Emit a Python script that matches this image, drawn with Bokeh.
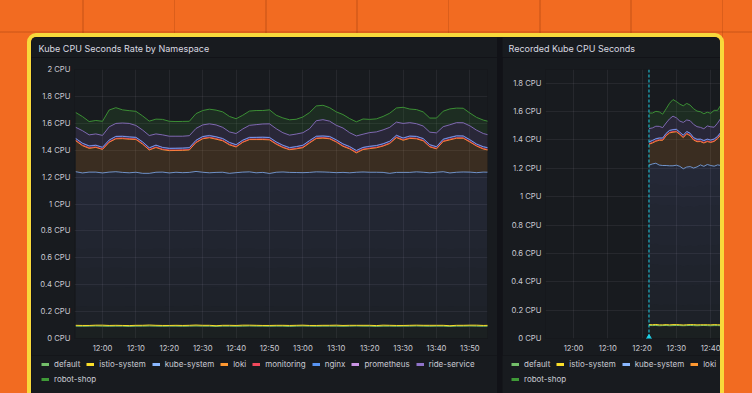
import numpy as np
import pandas as pd
from bokeh.plotting import figure
from bokeh.models import (Range1d, FixedTicker, DatetimeTickFormatter, CustomJSTickFormatter,
                          Legend, LegendItem, Span, Spacer, Label)
from bokeh.layouts import row, column
from bokeh.embed import file_html
from bokeh.resources import INLINE

DAY = "2024-05-14"

names = ["default", "istio-system", "kube-system", "loki", "monitoring",
         "nginx", "prometheus", "ride-service", "robot-shop"]
colors = ["#73bf69", "#fade2a", "#8ab8ff", "#ff9830", "#f2495c",
          "#5794f2", "#ca95e5", "#8f73c9", "#3f9a37"]
fill_alphas = [0.03, 0.10, None, 0.15, 0.15, 0.15, 0.15, 0.15, 0.15]
line_alphas = [1.0, 1.0, 0.75, 1.0, 0.8, 1.0, 0.35, 0.85, 0.9]

left_title = "Kube CPU Seconds Rate by Namespace"
right_title = "Recorded Kube CPU Seconds"

# ---- left panel data (every 2 minutes from 11:52) ----
left_first, left_step, left_n = "11:52", "2min", 63
left_default = [0.092,0.091,0.092,0.093,0.092,0.091,0.092,0.092,0.090,0.092,
                0.092,0.093,0.092,0.091,0.092,0.092,0.091,0.092,0.093,0.092,
                0.092,0.090,0.092,0.092,0.091,0.092,0.093,0.092,0.092,0.091,
                0.092,0.092,0.090,0.092,0.093,0.092,0.091,0.092,0.092,0.092,
                0.091,0.092,0.093,0.092,0.092,0.090,0.092,0.092,0.091,0.092,
                0.092,0.093,0.092,0.091,0.092,0.092,0.090,0.092,0.092,0.093,
                0.092,0.091,0.092]
left_istio = [0.006,0.006,0.005,0.006,0.007,0.006,0.006,0.005,0.006,0.006,
              0.006,0.007,0.006,0.006,0.005,0.006,0.006,0.006,0.007,0.006,
              0.006,0.005,0.006,0.006,0.006,0.007,0.006,0.006,0.005,0.006,
              0.006,0.006,0.007,0.006,0.006,0.005,0.006,0.006,0.006,0.007,
              0.006,0.006,0.005,0.006,0.006,0.006,0.007,0.006,0.006,0.005,
              0.006,0.006,0.006,0.007,0.006,0.006,0.005,0.006,0.006,0.006,
              0.007,0.006,0.006]
left_kube = [1.142,1.134,1.140,1.138,1.132,1.140,1.142,1.138,1.136,1.138,
             1.130,1.128,1.138,1.140,1.134,1.138,1.136,1.137,1.142,1.138,
             1.134,1.140,1.138,1.130,1.136,1.138,1.140,1.134,1.138,1.130,
             1.138,1.140,1.138,1.136,1.134,1.138,1.142,1.140,1.138,1.134,
             1.138,1.134,1.138,1.140,1.138,1.140,1.136,1.130,1.138,1.138,
             1.137,1.140,1.138,1.134,1.138,1.142,1.136,1.138,1.140,1.138,
             1.134,1.140,1.138]
left_loki = [0.230,0.203,0.177,0.184,0.175,0.222,0.245,0.251,0.250,0.244,
             0.217,0.174,0.184,0.167,0.166,0.162,0.166,0.167,0.215,0.249,
             0.261,0.247,0.234,0.212,0.191,0.222,0.240,0.247,0.244,0.250,
             0.209,0.182,0.169,0.176,0.186,0.219,0.248,0.252,0.249,0.228,
             0.194,0.178,0.144,0.167,0.176,0.182,0.196,0.222,0.259,0.239,
             0.253,0.246,0.234,0.193,0.174,0.225,0.246,0.253,0.251,0.224,
             0.198,0.172,0.162]
left_monitoring = [0.004,0.004,0.005,0.004,0.003,0.004,0.004,0.005,0.004,0.004,
                   0.004,0.003,0.004,0.004,0.005,0.004,0.004,0.004,0.003,0.004,
                   0.004,0.005,0.004,0.004,0.004,0.003,0.004,0.004,0.005,0.004,
                   0.004,0.004,0.003,0.004,0.004,0.005,0.004,0.004,0.004,0.003,
                   0.004,0.004,0.005,0.004,0.004,0.004,0.003,0.004,0.004,0.005,
                   0.004,0.004,0.004,0.003,0.004,0.004,0.005,0.004,0.004,0.004,
                   0.003,0.004,0.004]
left_nginx = [0.012,0.013,0.012,0.011,0.012,0.012,0.013,0.012,0.012,0.011,
              0.012,0.012,0.013,0.012,0.011,0.012,0.012,0.012,0.013,0.012,
              0.011,0.012,0.012,0.013,0.012,0.012,0.011,0.012,0.012,0.013,
              0.012,0.012,0.011,0.012,0.013,0.012,0.012,0.011,0.012,0.012,
              0.013,0.012,0.012,0.011,0.012,0.012,0.013,0.012,0.012,0.011,
              0.012,0.013,0.012,0.012,0.011,0.012,0.012,0.013,0.012,0.012,
              0.011,0.012,0.012]
left_prometheus = [0.002,0.002,0.002,0.003,0.002,0.002,0.002,0.002,0.003,0.002,
                   0.002,0.002,0.002,0.002,0.003,0.002,0.002,0.002,0.002,0.002,
                   0.003,0.002,0.002,0.002,0.002,0.002,0.003,0.002,0.002,0.002,
                   0.002,0.002,0.003,0.002,0.002,0.002,0.002,0.002,0.003,0.002,
                   0.002,0.002,0.002,0.002,0.003,0.002,0.002,0.002,0.002,0.002,
                   0.003,0.002,0.002,0.002,0.002,0.002,0.003,0.002,0.002,0.002,
                   0.002,0.002,0.003]
left_ride = [0.082,0.092,0.081,0.082,0.087,0.097,0.095,0.097,0.098,0.087,
             0.087,0.090,0.082,0.092,0.088,0.088,0.087,0.088,0.087,0.085,
             0.085,0.087,0.082,0.077,0.082,0.082,0.088,0.093,0.097,0.100,
             0.097,0.092,0.091,0.092,0.092,0.087,0.114,0.120,0.112,0.107,
             0.117,0.102,0.107,0.097,0.100,0.100,0.102,0.102,0.097,0.107,
             0.098,0.093,0.092,0.092,0.102,0.092,0.092,0.097,0.097,0.102,
             0.102,0.097,0.094]
left_robot = [0.110,0.105,0.099,0.100,0.105,0.125,0.117,0.098,0.095,0.105,
              0.105,0.107,0.110,0.115,0.111,0.109,0.110,0.107,0.110,0.107,
              0.109,0.110,0.115,0.115,0.110,0.102,0.106,0.105,0.100,0.104,
              0.100,0.110,0.114,0.110,0.117,0.120,0.110,0.107,0.100,0.100,
              0.100,0.105,0.105,0.113,0.098,0.097,0.100,0.105,0.105,0.120,
              0.101,0.105,0.105,0.105,0.110,0.115,0.118,0.108,0.108,0.095,
              0.095,0.100,0.100]

# ---- right panel data (every minute from 12:22) ----
right_first, right_step, right_n = "12:22", "1min", 23
right_default = [0.092,0.091,0.092,0.090,0.091,0.092,0.090,0.091,0.092,0.091,0.090,0.091,
                 0.092,0.091,0.090,0.091,0.092,0.091,0.090,0.091,0.091,0.090,0.091]
right_istio = [0.006,0.006,0.007,0.006,0.005,0.006,0.006,0.007,0.006,0.006,0.005,0.006,
               0.006,0.007,0.006,0.006,0.005,0.006,0.006,0.007,0.006,0.006,0.006]
right_kube = [1.124,1.134,1.137,1.127,1.124,1.122,1.122,1.120,1.124,1.117,1.102,1.112,
              1.114,1.104,1.114,1.127,1.117,1.130,1.124,1.117,1.127,1.124,1.124]
right_loki = [0.148,0.148,0.155,0.175,0.178,0.210,0.232,0.237,0.236,0.225,0.220,0.235,
              0.218,0.198,0.178,0.165,0.165,0.162,0.163,0.175,0.185,0.218,0.223]
right_monitoring = [0.004,0.004,0.005,0.004,0.003,0.004,0.004,0.005,0.004,0.004,0.004,0.003,
                    0.004,0.004,0.005,0.004,0.004,0.004,0.003,0.004,0.004,0.005,0.004]
right_nginx = [0.012,0.013,0.012,0.011,0.012,0.012,0.013,0.012,0.012,0.011,0.012,0.012,
               0.013,0.012,0.011,0.012,0.012,0.012,0.013,0.012,0.011,0.012,0.012]
right_prometheus = [0.002,0.002,0.002,0.003,0.002,0.002,0.002,0.002,0.003,0.002,0.002,0.002,
                    0.002,0.002,0.003,0.002,0.002,0.002,0.002,0.002,0.003,0.002,0.002]
right_ride = [0.092,0.087,0.087,0.080,0.072,0.072,0.080,0.094,0.079,0.077,0.089,0.080,
              0.087,0.092,0.087,0.082,0.082,0.092,0.092,0.082,0.092,0.098,0.097]
right_robot = [0.110,0.105,0.105,0.102,0.095,0.100,0.110,0.117,0.115,0.120,0.117,0.117,
               0.110,0.110,0.110,0.110,0.106,0.097,0.095,0.119,0.090,0.094,0.090]

left_x_ticks = ["12:00", "12:10", "12:20", "12:30", "12:40", "12:50",
                "13:00", "13:10", "13:20", "13:30", "13:40", "13:50"]
right_x_ticks = ["12:00", "12:10", "12:20", "12:30", "12:40"]
left_y_ticks = [0, 0.2, 0.4, 0.6, 0.8, 1, 1.2, 1.4, 1.6, 1.8, 2]
right_y_ticks = [0, 0.2, 0.4, 0.6, 0.8, 1, 1.2, 1.4, 1.6, 1.8]
left_view = ("11:51:37", "13:55:16", 2.0)
right_view = ("11:51:50", "12:42:51", 1.897)
annotation_time = "12:22"

left_values = [left_default, left_istio, left_kube, left_loki, left_monitoring,
               left_nginx, left_prometheus, left_ride, left_robot]
right_values = [right_default, right_istio, right_kube, right_loki, right_monitoring,
                right_nginx, right_prometheus, right_ride, right_robot]

TEXT = "#c9cad2"
PANEL = "#181b1f"
FONT = "Inter"


def ms(hm):
    return pd.Timestamp(f"{DAY} {hm}").value / 1e6


def blank_fig(width, height):
    f = figure(width=width, height=height, x_range=Range1d(0, 1), y_range=Range1d(0, 1),
               x_axis_location=None, y_axis_location=None,
               output_backend="svg", toolbar_location=None,
               min_border_left=0, min_border_right=0, min_border_top=0, min_border_bottom=0)
    f.background_fill_color = PANEL
    f.border_fill_color = PANEL
    f.outline_line_color = None
    f.grid.visible = False
    return f


def make_panel(title, width, border_right, first, step, n, values, view,
               x_ticks, y_ticks, legend_rows, title_x, legend_x):
    # header with the panel title
    head = blank_fig(width, 20)
    head.add_layout(Label(x=title_x, y=9, x_units="screen", y_units="screen", text=title,
                          text_font=FONT, text_font_size="9px", text_color="#d8d9e0",
                          text_baseline="middle", text_align="left"))

    times = pd.date_range(f"{DAY} {first}", periods=n, freq=step)
    p = figure(width=width, height=298, x_axis_type="datetime",
               x_range=Range1d(ms(view[0]), ms(view[1])),
               y_range=Range1d(0, view[2]),
               output_backend="svg", toolbar_location=None,
               min_border_left=43, min_border_right=border_right,
               min_border_top=12, min_border_bottom=17)
    p.background_fill_color = PANEL
    p.border_fill_color = PANEL
    p.outline_line_color = None

    p.xaxis.ticker = FixedTicker(ticks=[ms(t) for t in x_ticks])
    p.xaxis.formatter = DatetimeTickFormatter(minsec="%H:%M", minutes="%H:%M",
                                              hourmin="%H:%M", hours="%H:%M")
    p.yaxis.ticker = FixedTicker(ticks=y_ticks)
    p.yaxis.formatter = CustomJSTickFormatter(code="return (Math.round(tick*10)/10) + ' CPU';")
    for ax in (p.xaxis[0], p.yaxis[0]):
        ax.axis_line_color = None
        ax.major_tick_line_color = None
        ax.minor_tick_line_color = None
        ax.major_tick_in = 0
        ax.major_tick_out = 0
        ax.major_label_text_font = FONT
        ax.major_label_text_font_size = "7.7px"
        ax.major_label_text_color = TEXT
    p.yaxis.major_label_standoff = 4
    p.xaxis.major_label_standoff = 5
    p.grid.grid_line_color = "#ccccdc"
    p.grid.grid_line_alpha = 0.08

    lower = np.zeros(n)
    tops = []
    for name, vals, col, fa in zip(names, values, colors, fill_alphas):
        upper = lower + np.array(vals)
        if name == "kube-system":
            p.varea(x=times, y1=lower, y2=upper, fill_color=col, fill_alpha=0.035)
            for j in range(8):
                p.varea(x=times, y1=lower + (upper - lower) * j / 8, y2=upper,
                        fill_color=col, fill_alpha=0.011)
        else:
            p.varea(x=times, y1=lower, y2=upper, fill_color=col, fill_alpha=fa)
        tops.append(upper)
        lower = upper
    for top, col, la in zip(tops, colors, line_alphas):
        p.line(times, top, line_color=col, line_width=1, line_alpha=la)

    # legend strip (key swatches are one-point lines: they draw nothing in the strip itself)
    leg_fig = blank_fig(width, 38)
    keys = {name: leg_fig.line(x=times[:1], y=vals[:1], line_color=col, line_width=3)
            for name, vals, col in zip(names, values, colors)}
    for items, vy in legend_rows:
        leg = Legend(items=[LegendItem(label=nm, renderers=[keys[nm]]) for nm in items],
                     location=(legend_x, vy), orientation="horizontal",
                     glyph_width=8, glyph_height=10, label_height=10, label_width=1,
                     label_standoff=5, spacing=6, padding=0, margin=0,
                     border_line_alpha=0, background_fill_alpha=0,
                     label_text_font=FONT, label_text_font_size="8px",
                     label_text_color=TEXT)
        leg_fig.add_layout(leg)
    return column(row(head), p, row(leg_fig)), p


left_panel, p_left = make_panel(left_title, 466, 10, left_first, left_step, left_n, left_values,
                                left_view, left_x_ticks, left_y_ticks,
                                [(names[:8], 24), (names[8:], 9)], 7, 10)
right_panel, p_right = make_panel(right_title, 218, 0, right_first, right_step, right_n,
                                  right_values, right_view, right_x_ticks, right_y_ticks,
                                  [(names[:4], 24), (names[8:], 9)], 6, 9)

p_right.add_layout(Span(location=ms(annotation_time), dimension="height",
                        line_color="#1fd3ea", line_dash="3 2", line_width=1))
p_right.scatter(x=[ms(annotation_time)], y=[0], marker="triangle", size=7,
                color="#1fd3ea")

inner = row(left_panel, right_panel, spacing=5,
            styles={"background-color": "#111217",
                    "outline": "4px solid #f8d93b",
                    "border-radius": "5px 5px 0 0",
                    "overflow": "hidden"})

page = column(Spacer(width=752, height=37),
              row(Spacer(width=31, height=356), inner),
              width=752, height=393,
              styles={"background-color": "#f26b21",
                      "background-image": ("linear-gradient(180deg, transparent 0px, transparent 31px, "
                                           "rgba(150,55,10,0.22) 31px, rgba(150,55,10,0.22) 33px, "
                                           "transparent 33px), "
                                           "repeating-linear-gradient(90deg, transparent 0px, transparent 82.5px, "
                                           "rgba(150,55,10,0.25) 82.5px, rgba(150,55,10,0.25) 84px, "
                                           "transparent 84px, transparent 91.3px)"),
                      "overflow": "hidden"})

open("out.html", "w").write(file_html(page, INLINE))
